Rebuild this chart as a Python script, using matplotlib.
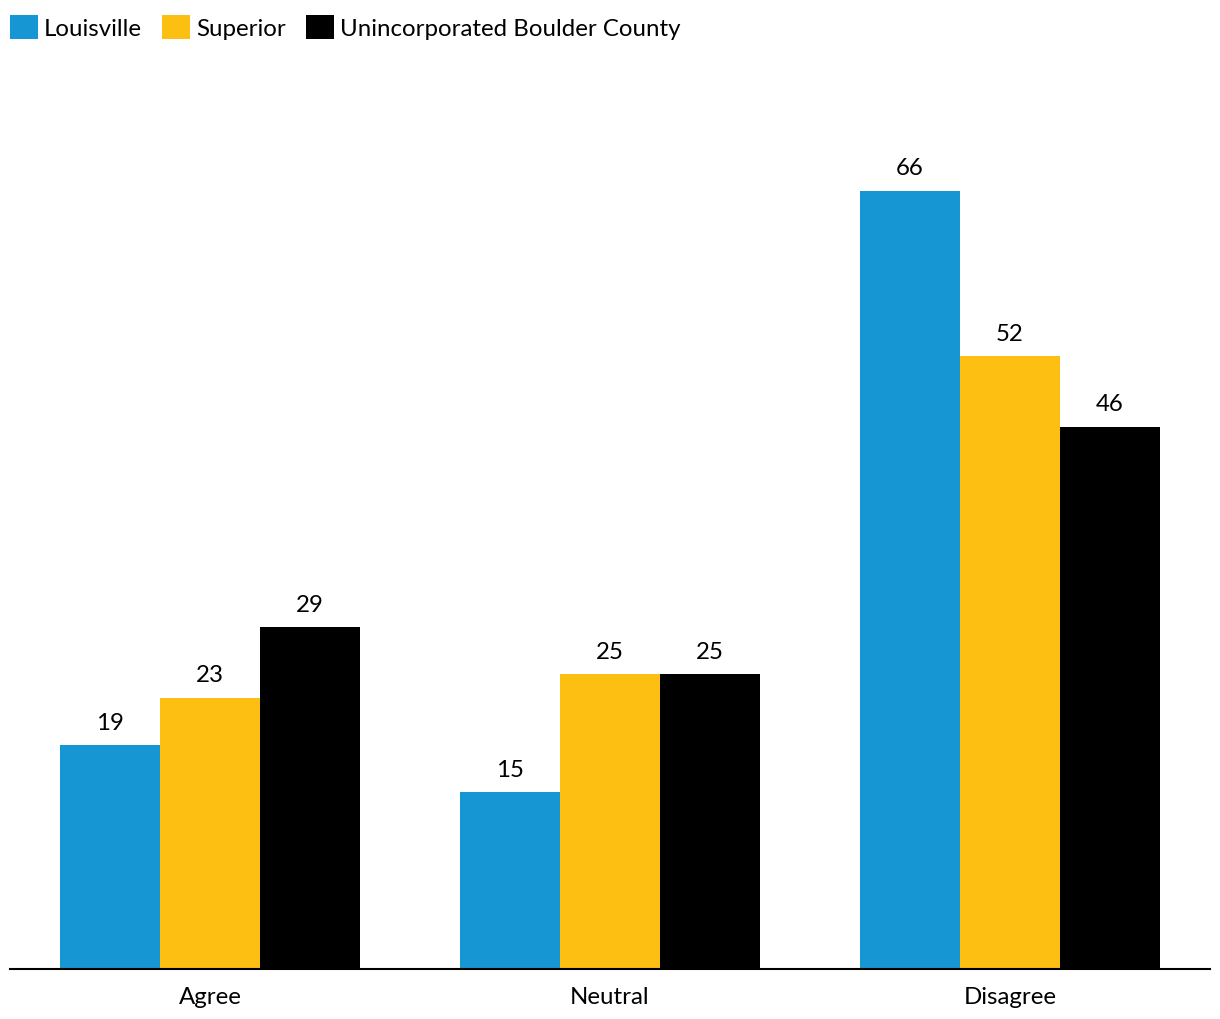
import numpy as np
import matplotlib.pyplot as plt

categories = ["Agree", "Neutral", "Disagree"]
series = ["Louisville", "Superior", "Unincorporated Boulder County"]
louisville = [19, 15, 66]
superior = [23, 25, 52]
unincorporated = [29, 25, 46]

colors = ["#1696d2", "#fdbf11", "#000000"]

plt.rcParams['font.family'] = ['Lato', 'DejaVu Sans']
fs = 17.3

W, H = 1220, 1020
fig = plt.figure(figsize=(W / 100, H / 100), dpi=100)
# axes: x 10..1210 px, baseline at y=970, top at y=80
ax = fig.add_axes([10 / W, (H - 970) / H, 1200 / W, 890 / H])

x = np.arange(len(categories))
width = 0.25
values = [louisville, superior, unincorporated]
bars = []
for i, (name, vals) in enumerate(zip(series, values)):
    b = ax.bar(x + (i - 1) * width, vals, width, color=colors[i], label=name)
    bars.append(b)
    ax.bar_label(b, labels=[str(v) for v in vals], padding=9, fontsize=fs, color="#000000")

ax.set_xlim(-0.5, 2.5)
ax.set_ylim(0, 890 / (778 / 66))
ax.set_xticks(x)
ax.set_xticklabels(categories, fontsize=fs)
ax.tick_params(axis="x", length=0, pad=12)
ax.set_yticks([])
for s in ["top", "right", "left"]:
    ax.spines[s].set_visible(False)
ax.spines["bottom"].set_linewidth(1.5)
ax.spines["bottom"].set_color("#000000")

fig.legend(handles=bars, labels=series, loc="upper left",
           bbox_to_anchor=(10 / W, 1 - 16 / H), ncol=3, frameon=False,
           fontsize=fs, handlelength=1.17, handleheight=1.17,
           handletextpad=0.25, columnspacing=0.83, borderaxespad=0,
           borderpad=0)

fig.savefig("out.png", dpi=100)
